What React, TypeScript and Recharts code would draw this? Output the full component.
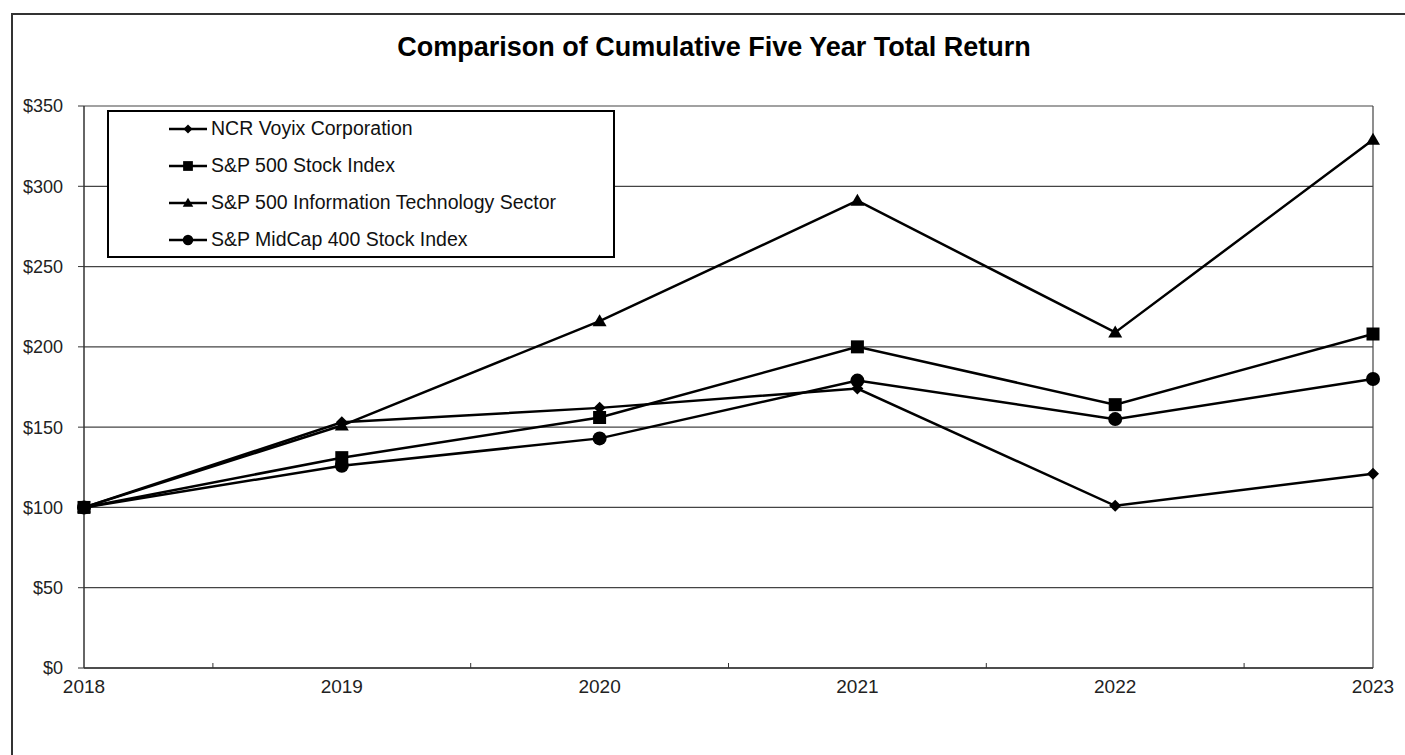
import React from 'react';
import {
  LineChart,
  Line,
  XAxis,
  YAxis,
  CartesianGrid,
  ReferenceLine,
  Legend,
} from 'recharts';

const years = [2018, 2019, 2020, 2021, 2022, 2023];
const ncrVoyix = [100, 153, 162, 174, 101, 121];
const sp500 = [100, 131, 156, 200, 164, 208];
const sp500InfoTech = [100, 151, 216, 291, 209, 329];
const spMidCap400 = [100, 126, 143, 179, 155, 180];

const yTicks = [0, 50, 100, 150, 200, 250, 300, 350];
const xTicks = [2018, 2018.5, 2019, 2019.5, 2020, 2020.5, 2021, 2021.5, 2022, 2022.5, 2023];

const seriesNames = [
  'NCR Voyix Corporation',
  'S&P 500 Stock Index',
  'S&P 500 Information Technology Sector',
  'S&P MidCap 400 Stock Index',
];

const data = years.map((year, i) => ({
  year,
  ncr: ncrVoyix[i],
  sp500: sp500[i],
  tech: sp500InfoTech[i],
  midcap: spMidCap400[i],
}));

const FONT = 'Arial, "Liberation Sans", sans-serif';
const INK = '#000';

type Shape = 'diamond' | 'square' | 'triangle' | 'circle';

function Marker({ shape, cx, cy }: { shape: Shape; cx: number; cy: number }) {
  if (shape === 'diamond') {
    const r = 6;
    return <polygon points={`${cx},${cy - r} ${cx + r},${cy} ${cx},${cy + r} ${cx - r},${cy}`} fill={INK} />;
  }
  if (shape === 'square') {
    const s = 6.5;
    return <rect x={cx - s} y={cy - s} width={s * 2} height={s * 2} fill={INK} />;
  }
  if (shape === 'triangle') {
    return <polygon points={`${cx},${cy - 7} ${cx + 7},${cy + 5} ${cx - 7},${cy + 5}`} fill={INK} />;
  }
  return <circle cx={cx} cy={cy} r={7} fill={INK} />;
}

const makeDot = (shape: Shape) => (props: any) => {
  const { cx, cy, index } = props;
  if (cx == null || cy == null) return <g key={`${shape}-${index}`} />;
  return (
    <g key={`${shape}-${index}`}>
      <Marker shape={shape} cx={cx} cy={cy} />
    </g>
  );
};

const legendShapes: Shape[] = ['diamond', 'square', 'triangle', 'circle'];

function LegendBox() {
  return (
    <div
      style={{
        boxSizing: 'border-box',
        width: 508,
        height: 148,
        border: '2px solid #000',
        background: '#fff',
        fontFamily: FONT,
        fontSize: 19.5,
        color: '#111',
      }}
    >
      <div style={{ position: 'relative', top: -2 }}>
        {seriesNames.map((name, i) => (
          <div key={name} style={{ display: 'flex', alignItems: 'center', height: 37, paddingLeft: 59 }}>
            <svg width={40} height={16} style={{ marginRight: 3 }}>
              <line x1={1} y1={8} x2={39} y2={8} stroke={INK} strokeWidth={2.5} />
              <g transform="translate(20,8) scale(0.75) translate(-20,-8)">
                <Marker shape={legendShapes[i]} cx={20} cy={8} />
              </g>
            </svg>
            <span>{name}</span>
          </div>
        ))}
      </div>
    </div>
  );
}

function XTick(props: any) {
  const { x, y, payload } = props;
  const v = payload.value as number;
  if (!Number.isInteger(v)) {
    return <line x1={x} y1={y - 12} x2={x} y2={y - 17} stroke="#333" strokeWidth={1} />;
  }
  return (
    <text x={x} y={y} dy="0.71em" textAnchor="middle" fontFamily={FONT} fontSize={19} fill="#222">
      {v}
    </text>
  );
}

export default function App() {
  return (
    <div
      style={{
        position: 'absolute',
        left: 0,
        top: 0,
        width: 1405,
        height: 755,
        overflow: 'hidden',
        background: '#fff',
      }}
    >
      <div
        style={{
          position: 'absolute',
          left: 11,
          top: 13,
          width: 1420,
          height: 760,
          border: '2px solid #333',
        }}
      />
      <div
        style={{
          position: 'absolute',
          left: 0,
          top: 32,
          width: 1428,
          textAlign: 'center',
          fontFamily: FONT,
          fontWeight: 'bold',
          fontSize: 27,
          color: '#000',
          whiteSpace: 'nowrap',
        }}
      >
        Comparison of Cumulative Five Year Total Return
      </div>
      <div style={{ position: 'absolute', left: 0, top: 0 }}>
        <LineChart width={1405} height={755} data={data} margin={{ top: 106, right: 32, bottom: 57, left: 0 }}>
          <CartesianGrid vertical={false} stroke="#444" strokeWidth={1.2} />
          <ReferenceLine x={2023} stroke="#444" strokeWidth={1.2} />
          <XAxis
            dataKey="year"
            type="number"
            domain={[2018, 2023]}
            ticks={xTicks}
            interval={0}
            height={30}
            tickLine={false}
            tickSize={0}
            tickMargin={12}
            axisLine={{ stroke: '#333', strokeWidth: 1.5 }}
            tick={<XTick />}
          />
          <YAxis
            type="number"
            domain={[0, 350]}
            ticks={yTicks}
            interval={0}
            width={84}
            tickSize={6}
            tickMargin={15}
            tickFormatter={(v) => `$${v}`}
            tick={{ fontFamily: FONT, fontSize: 18, fill: '#222' }}
            tickLine={{ stroke: '#333' }}
            axisLine={{ stroke: '#333', strokeWidth: 1.5 }}
          />
          <Legend
            layout="horizontal"
            verticalAlign="middle"
            align="center"
            content={() => <LegendBox />}
            wrapperStyle={{ left: 107, top: 110, width: 508, height: 148 }}
          />
          <Line dataKey="midcap" stroke={INK} strokeWidth={2.5} dot={makeDot('circle')} isAnimationActive={false} />
          <Line dataKey="tech" stroke={INK} strokeWidth={2.5} dot={makeDot('triangle')} isAnimationActive={false} />
          <Line dataKey="ncr" stroke={INK} strokeWidth={2.5} dot={makeDot('diamond')} isAnimationActive={false} />
          <Line dataKey="sp500" stroke={INK} strokeWidth={2.5} dot={makeDot('square')} isAnimationActive={false} />
        </LineChart>
      </div>
    </div>
  );
}
